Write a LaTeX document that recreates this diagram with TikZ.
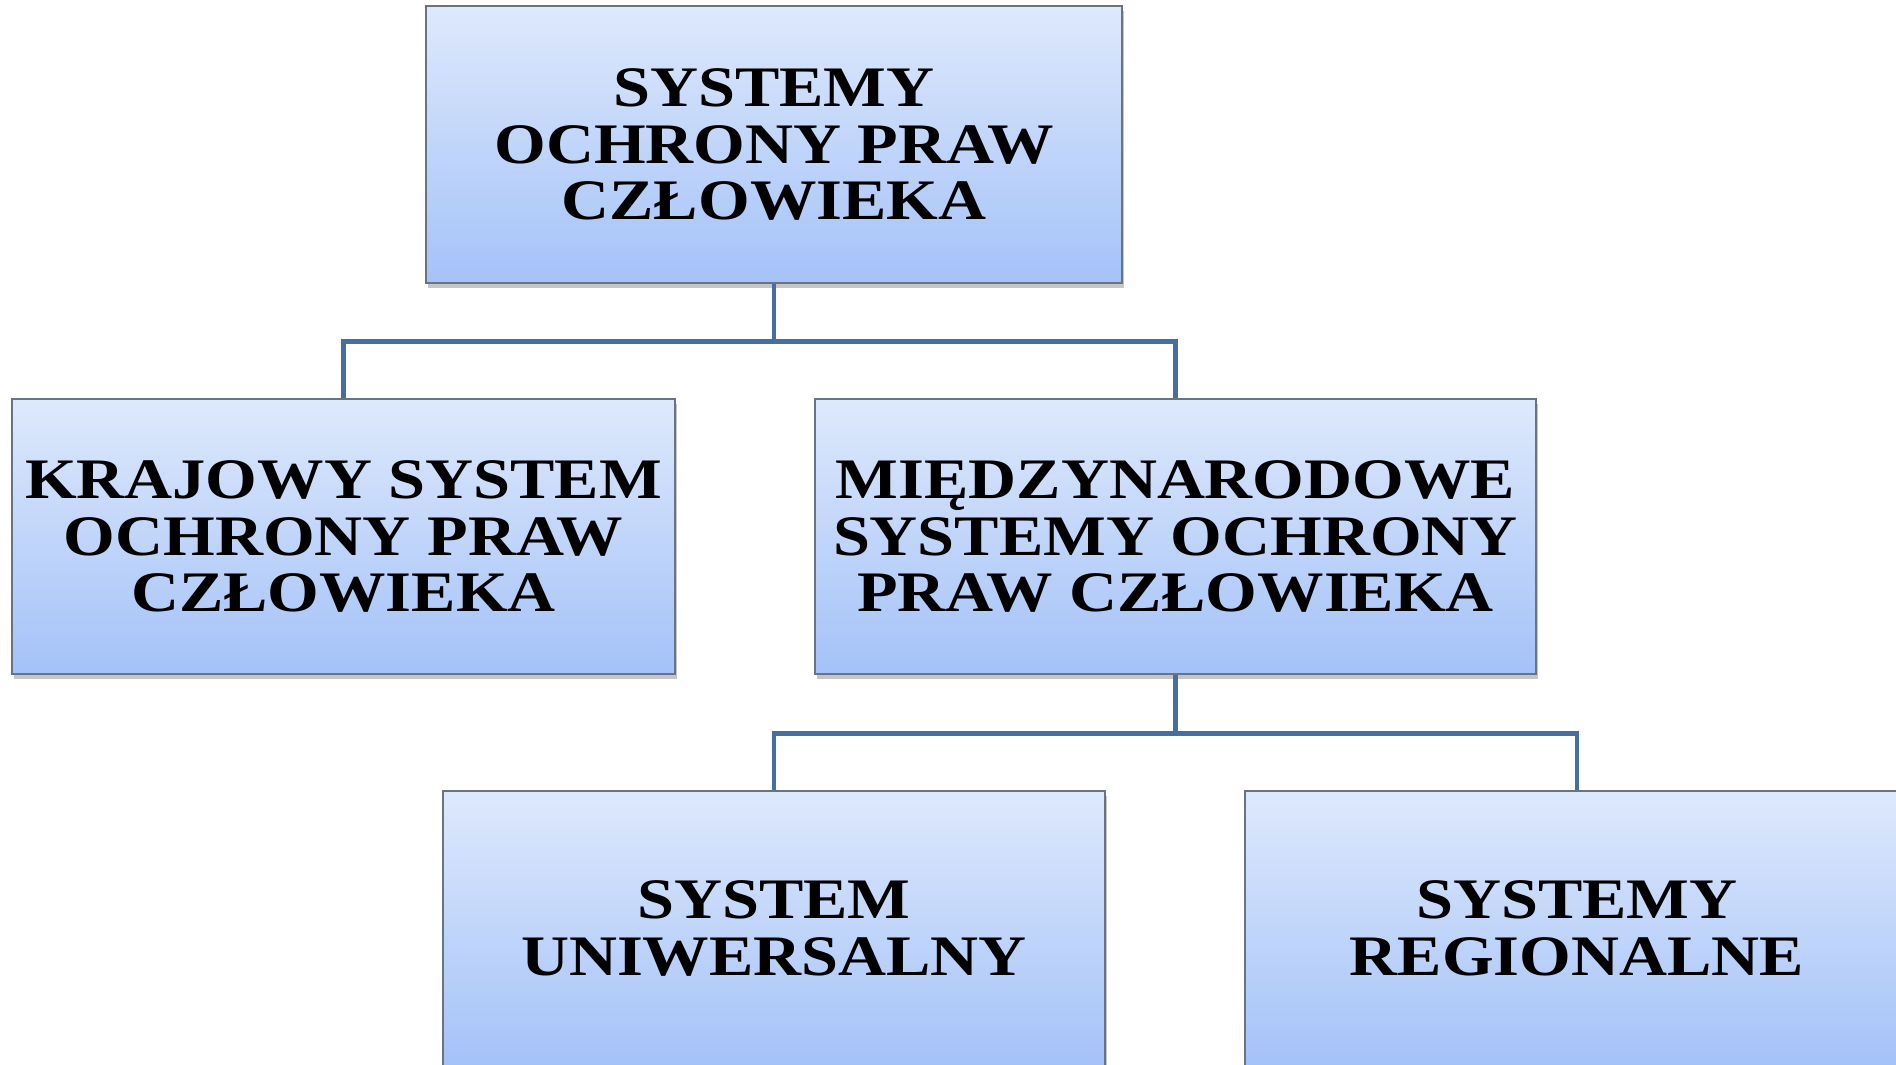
\documentclass[tikz,border=0pt]{standalone}
\usepackage{fontspec}
\setmainfont{Liberation Serif}[FakeStretch=1.16]
\usetikzlibrary{shapes,backgrounds,shadows}

\definecolor{boxtop}{RGB}{222,233,252}
\definecolor{boxbot}{RGB}{164,194,248}
\definecolor{boxline}{RGB}{105,115,130}
\definecolor{linkblue}{RGB}{68,111,160}

\tikzset{
  sysbox/.style={draw=boxline, line width=0.45pt, top color=boxtop, bottom color=boxbot,
    minimum height=2.75cm, inner sep=0pt, align=center,
    font=\fontsize{16.3}{16.1}\selectfont\bfseries,
    drop shadow={shadow xshift=0.7pt, shadow yshift=-1.5pt, opacity=0.45}},
  link/.style={draw=linkblue, line width=1.4pt}
}

\begin{document}
\begin{tikzpicture}
\useasboundingbox (0,0) rectangle (18.96,10.65);
\node[sysbox, minimum width=6.96cm, minimum height=2.77cm] (sys) at (7.74,9.205) {SYSTEMY\\OCHRONY PRAW\\CZŁOWIEKA};
\node[sysbox, minimum width=6.63cm] (kraj) at (3.435,5.285) {KRAJOWY SYSTEM\\OCHRONY PRAW\\CZŁOWIEKA};
\node[sysbox, minimum width=7.21cm] (miedz) at (11.755,5.285) {MIĘDZYNARODOWE\\SYSTEMY OCHRONY\\PRAW CZŁOWIEKA};
\node[sysbox, minimum width=6.62cm] (uniw) at (7.74,1.365) {SYSTEM\\UNIWERSALNY};
\node[sysbox, minimum width=6.64cm] (regio) at (15.77,1.365) {SYSTEMY\\REGIONALNE};
\draw[link] (sys.south) -- ++(0,-0.58) -| (kraj.north);
\draw[link] (sys.south) -- ++(0,-0.58) -| (miedz.north);
\draw[link] (miedz.south) -- ++(0,-0.59) -| (uniw.north);
\draw[link] (miedz.south) -- ++(0,-0.59) -| (regio.north);
\end{tikzpicture}
\end{document}
